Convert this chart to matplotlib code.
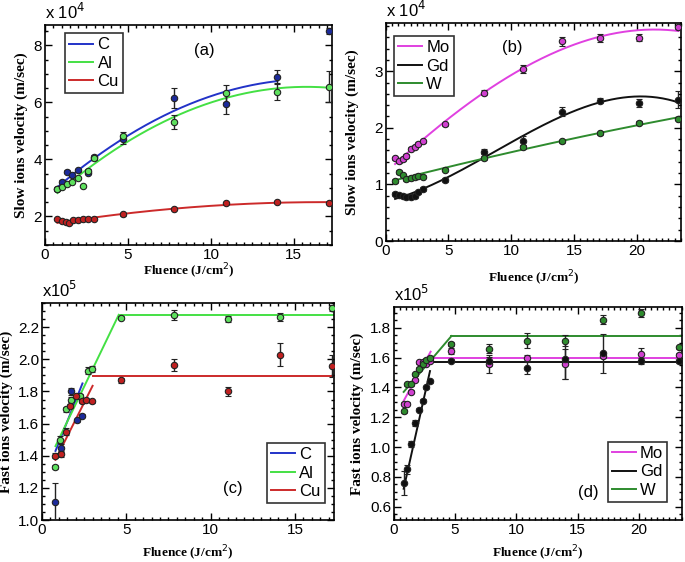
import numpy as np
import matplotlib
matplotlib.use("Agg")
import matplotlib.pyplot as plt
from matplotlib.ticker import MultipleLocator, FormatStrFormatter

# ---------------- data (velocities in units of the axis multiplier) ----------------
# panel (a): slow ions, x 10^4 m/s
fa_c = [0.75, 1.05, 1.35, 1.65, 2.0, 2.6, 2.95, 4.7, 7.8, 10.9, 14.0, 17.1]
va_c = [2.95, 3.22, 3.57, 3.45, 3.62, 3.53, 4.07, 4.70, 6.15, 5.95, 6.88, 8.50]
ea_c = [0.05, 0.05, 0.05, 0.05, 0.05, 0.05, 0.08, 0.15, 0.35, 0.35, 0.25, 0.10]

fa_al = [0.75, 1.05, 1.35, 1.65, 2.0, 2.3, 2.6, 2.95, 4.7, 7.8, 10.9, 14.0, 17.1]
va_al = [2.98, 3.05, 3.15, 3.22, 3.35, 3.07, 3.58, 4.05, 4.82, 5.32, 6.31, 6.37, 6.55]
ea_al = [0.05, 0.05, 0.05, 0.05, 0.05, 0.05, 0.08, 0.08, 0.15, 0.25, 0.30, 0.30, 0.55]

fa_cu = [0.75, 1.05, 1.25, 1.45, 1.7, 2.0, 2.3, 2.6, 2.95, 4.7, 7.8, 10.9, 14.0, 17.1]
va_cu = [1.90, 1.84, 1.80, 1.78, 1.86, 1.88, 1.90, 1.91, 1.91, 2.07, 2.27, 2.47, 2.50, 2.47]
ea_cu = [0.04] * 14

# panel (b): slow ions, x 10^4 m/s
fb = [0.75, 1.05, 1.35, 1.65, 2.0, 2.3, 2.6, 2.95, 4.7, 7.8, 10.9, 14.0, 17.1, 20.2, 23.3]
vb_mo = [1.46, 1.41, 1.45, 1.50, 1.63, 1.67, 1.72, 1.76, 2.06, 2.62, 3.04, 3.53, 3.58, 3.59, 3.78]
eb_mo = [0.03] * 8 + [0.03, 0.04, 0.07, 0.08, 0.07, 0.06, 0.03]
vb_gd = [0.83, 0.82, 0.79, 0.78, 0.78, 0.79, 0.86, 0.92, 1.08, 1.58, 1.77, 2.28, 2.48, 2.44, 2.50]
eb_gd = [0.03] * 8 + [0.03, 0.05, 0.08, 0.08, 0.04, 0.07, 0.15]
vb_w = [1.06, 1.22, 1.16, 1.09, 1.12, 1.13, 1.15, 1.14, 1.26, 1.47, 1.66, 1.76, 1.90, 2.09, 2.16]
eb_w = [0.03] * 15

# panel (c): fast ions, x 10^5 m/s
fc_c = [0.8, 1.1, 1.7, 2.05, 2.35]
vc_c = [1.11, 1.45, 1.80, 1.62, 1.65]
ec_c = [0.12, 0.02, 0.02, 0.01, 0.01]

fc_al = [0.8, 1.05, 1.45, 1.7, 2.25, 2.75, 2.95, 4.7, 7.85, 11.0, 14.1, 17.2]
vc_al = [1.33, 1.50, 1.69, 1.75, 1.77, 1.93, 1.94, 2.26, 2.275, 2.25, 2.265, 2.32]
ec_al = [0.015, 0.02, 0.015, 0.015, 0.015, 0.02, 0.02, 0.01, 0.03, 0.02, 0.025, 0.02]

fc_cu = [0.8, 1.1, 1.45, 1.65, 2.0, 2.35, 2.6, 2.95, 4.7, 7.85, 11.0, 14.1, 17.2]
vc_cu = [1.40, 1.41, 1.55, 1.71, 1.77, 1.74, 1.75, 1.74, 1.87, 1.965, 1.80, 2.03, 1.96]
ec_cu = [0.015, 0.015, 0.02, 0.015, 0.01, 0.01, 0.01, 0.01, 0.015, 0.035, 0.03, 0.07, 0.07]

# piecewise fits: rising segment + plateau
fitc_c = ([0.8, 2.4], [1.43, 1.85], None)
fitc_al = ([0.8, 4.55], [1.46, 2.277], 2.277)
fitc_cu = ([0.8, 3.0], [1.375, 1.835], 1.898)

# panel (d): fast ions, x 10^5 m/s
fd = [0.8, 1.1, 1.4, 1.75, 2.05, 2.35, 2.65, 2.95, 4.7, 7.8, 10.9, 14.0, 17.1, 20.2, 23.3]
vd_mo = [1.29, 1.29, 1.37, 1.45, 1.57, 1.57, 1.56, 1.58, 1.645, 1.56, 1.60, 1.56, 1.61, 1.625, 1.62]
ed_mo = [0.01] * 8 + [0.02, 0.06, 0.02, 0.10, 0.01, 0.04, 0.01]
vd_gd = [0.76, 0.85, 1.02, 1.16, 1.25, 1.31, 1.40, 1.44, 1.58, 1.575, 1.53, 1.59, 1.63, 1.575, 1.575]
ed_gd = [0.08, 0.03, 0.02, 0.02, 0.01, 0.01, 0.01, 0.01, 0.01, 0.03, 0.04, 0.13, 0.13, 0.02, 0.01]
vd_w = [1.24, 1.42, 1.42, 1.49, 1.525, 1.56, 1.585, 1.60, 1.69, 1.66, 1.715, 1.715, 1.855, 1.90, 1.67]
ed_w = [0.01] * 8 + [0.015, 0.03, 0.05, 0.04, 0.03, 0.03, 0.01]

# piecewise fits
fitd_mo = ([0.8, 3.0], [1.31, 1.64], 1.60)
fitd_gd = ([0.8, 2.95], [0.72, 1.51], 1.57)
fitd_w = ([0.8, 4.7], [1.37, 1.745], 1.745)

# ---------------- styling ----------------
SANS = "Liberation Sans"
SERIF = "Liberation Serif"
col = {"C": "#2233c8", "Al": "#44e044", "Cu": "#cc2a2a",
       "Mo": "#e040e0", "Gd": "#111111", "W": "#2e8b2e"}
mcol = {"C": "#1c2a9a", "Al": "#5ee05e", "Cu": "#c02020",
        "Mo": "#d040d0", "Gd": "#111111", "W": "#2e8b2e"}
label_font = {"family": SERIF, "weight": "bold"}

fig = plt.figure(figsize=(6.85, 5.62), dpi=100)


def make_axes(rect, xlim, ylim, ymaj, ymin, yfmt):
    ax = fig.add_axes(rect)
    ax.set_xlim(*xlim)
    ax.set_ylim(*ylim)
    ax.xaxis.set_major_locator(MultipleLocator(5))
    ax.xaxis.set_minor_locator(MultipleLocator(0.5))
    ax.yaxis.set_major_locator(MultipleLocator(ymaj))
    ax.yaxis.set_minor_locator(MultipleLocator(ymin))
    ax.yaxis.set_major_formatter(FormatStrFormatter(yfmt))
    ax.tick_params(which="both", direction="in", top=True, right=True, width=1)
    ax.tick_params(which="major", length=5, labelsize=11, pad=2)
    ax.tick_params(which="minor", length=2.5)
    for lab in ax.get_xticklabels() + ax.get_yticklabels():
        lab.set_fontfamily(SANS)
    for s in ax.spines.values():
        s.set_linewidth(1.2)
    return ax


def points(ax, f, v, e, name):
    ax.errorbar(f, v, yerr=e, fmt="o", ms=4.6, mfc=mcol[name], mec="#222222",
                mew=0.8, ecolor="#222222", elinewidth=1, capsize=2.2, zorder=3)


def poly_curve(ax, f, v, deg, name):
    p = np.polyfit(f, v, deg)
    x = np.linspace(min(f), max(f), 200)
    ax.plot(x, np.polyval(p, x), color=col[name], lw=1.4, zorder=2)


def knee_fit(ax, fit, name, xmax):
    xs, ys, plateau = fit
    ax.plot(xs, ys, color=col[name], lw=1.4, zorder=2)
    if plateau is not None:
        ax.plot([xs[-1], xmax], [plateau, plateau], color=col[name], lw=1.4, zorder=2)


def legend(ax, names, loc, anchor):
    handles = [plt.Line2D([0], [0], color=col[n], lw=1.4) for n in names]
    lg = ax.legend(handles, names, loc=loc, bbox_to_anchor=anchor, frameon=True,
                   fancybox=False, edgecolor="black", handlelength=1.45,
                   handletextpad=0.25, borderpad=0.25, labelspacing=0.2,
                   borderaxespad=0, prop={"family": SANS, "size": 12})
    lg.get_frame().set_linewidth(1.2)
    lg.set_zorder(5)


def labels(ax, ylab, ylab_x, xlab_y, mult, tag, tag_xy):
    ax.set_ylabel(ylab, fontdict=label_font, fontsize=11)
    ax.yaxis.set_label_coords(ylab_x, 0.5)
    ax.set_xlabel("Fluence (J/cm$^2$)", fontdict=label_font, fontsize=9.5)
    ax.xaxis.set_label_coords(0.5, xlab_y)
    ax.text(0.0, 1.015, mult, transform=ax.transAxes, fontsize=12, family=SANS, va="bottom")
    ax.text(tag_xy[0], tag_xy[1], tag, transform=ax.transAxes, fontsize=12,
            family=SANS, va="center")


# ---------------- (a) ----------------
ax = make_axes([0.0657, 0.564, 0.419, 0.391], (0, 17.3), (1.0, 8.7), 2, 0.5, "%d")
poly_curve(ax, fa_c[:-1], va_c[:-1], 2, "C")
poly_curve(ax, fa_al, va_al, 2, "Al")
poly_curve(ax, fa_cu, va_cu, 2, "Cu")
points(ax, fa_c, va_c, ea_c, "C")
points(ax, fa_al, va_al, ea_al, "Al")
points(ax, fa_cu, va_cu, ea_cu, "Cu")
legend(ax, ["C", "Al", "Cu"], "upper left", (0.07, 0.964))
labels(ax, "Slow ions velocity (m/sec)", -0.06, -0.078, r"x 10$^4$", "(a)", (0.52, 0.886))

# ---------------- (b) ----------------
ax = make_axes([0.563, 0.571, 0.431, 0.388], (0, 23.5), (0, 3.85), 1, 0.2, "%d")
poly_curve(ax, fb, vb_mo, 3, "Mo")
poly_curve(ax, fb, vb_gd, 3, "Gd")
poly_curve(ax, fb, vb_w, 2, "W")
points(ax, fb, vb_mo, eb_mo, "Mo")
points(ax, fb, vb_gd, eb_gd, "Gd")
points(ax, fb, vb_w, eb_w, "W")
legend(ax, ["Mo", "Gd", "W"], "upper left", (0.027, 0.94))
labels(ax, "Slow ions velocity (m/sec)", -0.091, -0.128, r"x 10$^4$", "(b)", (0.395, 0.888))

# ---------------- (c) ----------------
ax = make_axes([0.0613, 0.0747, 0.426, 0.386], (0, 17.3), (1.0, 2.35), 0.2, 0.05, "%.1f")
knee_fit(ax, fitc_c, "C", 17.3)
knee_fit(ax, fitc_al, "Al", 17.3)
knee_fit(ax, fitc_cu, "Cu", 17.3)
points(ax, fc_c, vc_c, ec_c, "C")
points(ax, fc_al, vc_al, ec_al, "Al")
points(ax, fc_cu, vc_cu, ec_cu, "Cu")
legend(ax, ["C", "Al", "Cu"], "lower right", (0.969, 0.078))
labels(ax, "Fast ions velocity (m/sec)", -0.099, -0.112, r"x10$^5$", "(c)", (0.62, 0.147))

# ---------------- (d) ----------------
ax = make_axes([0.575, 0.0747, 0.420, 0.379], (0, 23.5), (0.51, 1.94), 0.2, 0.05, "%.1f")
knee_fit(ax, fitd_mo, "Mo", 23.5)
knee_fit(ax, fitd_gd, "Gd", 23.5)
knee_fit(ax, fitd_w, "W", 23.5)
points(ax, fd, vd_mo, ed_mo, "Mo")
points(ax, fd, vd_gd, ed_gd, "Gd")
points(ax, fd, vd_w, ed_w, "W")
legend(ax, ["Mo", "Gd", "W"], "lower right", (0.951, 0.085))
labels(ax, "Fast ions velocity (m/sec)", -0.104, -0.114, r"x10$^5$", "(d)", (0.639, 0.131))

fig.savefig("out.png", dpi=100)
